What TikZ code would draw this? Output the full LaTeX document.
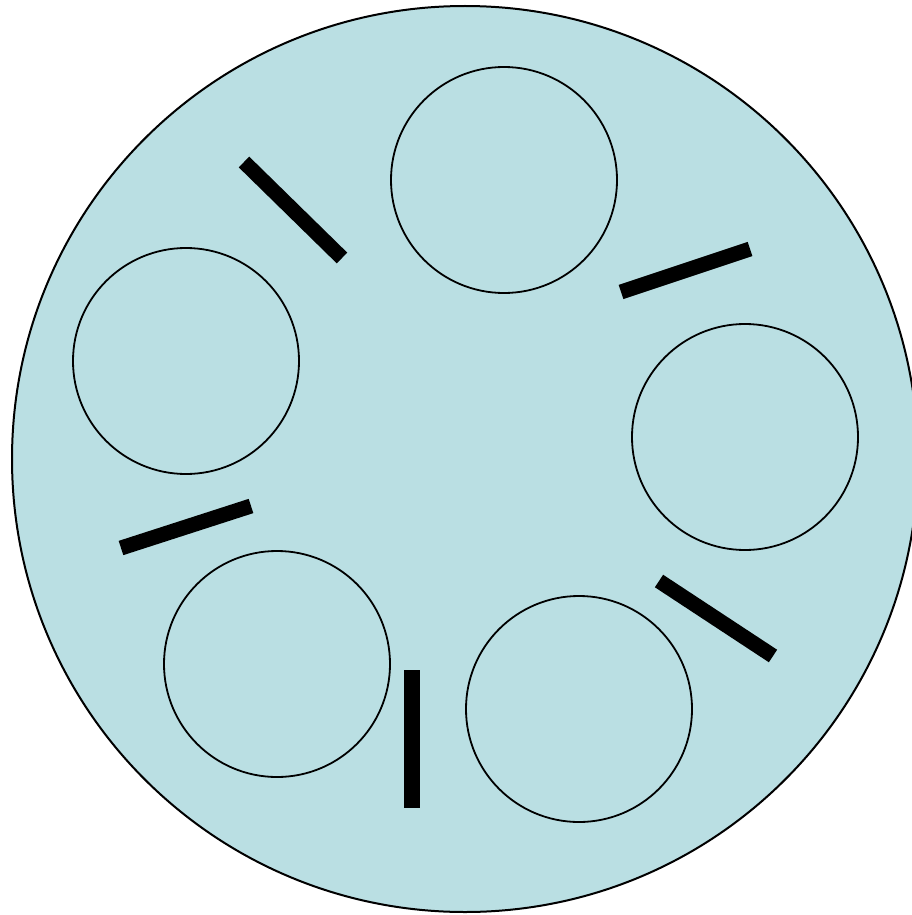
\documentclass[tikz,border=0pt]{standalone}
\definecolor{plate}{RGB}{186,223,227}
\begin{document}
\begin{tikzpicture}[x=1pt,y=-1pt,
  hole/.style={circle,draw=black,line width=1.8pt,minimum size=226pt,inner sep=0pt},
  bar/.style={line width=15pt,line cap=butt,draw=black}]
\useasboundingbox (0,0) rectangle (912,915);
\begin{scope}
\clip (0,0) rectangle (912,915);
\node[circle,draw=black,line width=2pt,fill=plate,minimum size=906pt,inner sep=0pt] (plate) at (465,459) {};
\end{scope}
\node[hole] (h1) at (504,180) {};
\node[hole] (h2) at (186,361) {};
\node[hole] (h3) at (745,437) {};
\node[hole] (h4) at (277,664) {};
\node[hole] (h5) at (579,709) {};
\draw[bar] (244,162) -- (342,258);
\draw[bar] (621,292) -- (750,249);
\draw[bar] (659,581) -- (773,656);
\draw[bar,line width=16pt] (412,670) -- (412,808);
\draw[bar] (121,548) -- (251,506);
\end{tikzpicture}
\end{document}
